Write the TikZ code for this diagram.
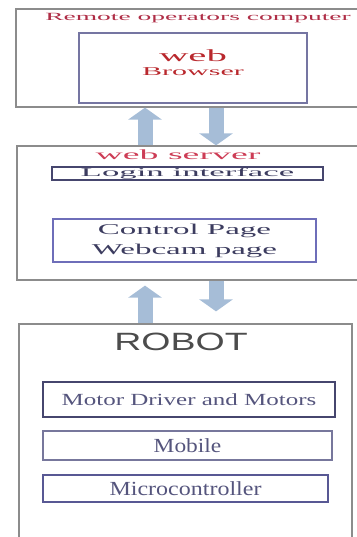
\documentclass[tikz,border=0pt]{standalone}
\usepackage{fontspec}
\setmainfont{Liberation Serif}
\newfontfamily\robotfont{Liberation Sans}
\usetikzlibrary{arrows.meta}

\definecolor{flowblue}{RGB}{166,189,215}
\definecolor{titlered}{RGB}{175,45,70}
\definecolor{textred}{RGB}{185,40,45}
\definecolor{serverred}{RGB}{205,60,85}
\definecolor{navytext}{RGB}{60,60,95}
\definecolor{greytext}{RGB}{85,85,125}
\definecolor{boxnavy}{RGB}{70,70,110}
\definecolor{boxblue}{RGB}{110,110,185}

% stretch a text sideways
\newcommand{\wide}[2]{\scalebox{#1}[1]{#2}}

\begin{document}
\begin{tikzpicture}[x=1pt,y=-1pt,
    outerbox/.style={draw=black!45, line width=1.2pt, inner sep=0pt},
    innerbox/.style={draw=#1, line width=1.2pt, inner sep=0pt, align=center},
    flow/.style={line width=15pt, flowblue, shorten <=0.8pt,
        -{Triangle[width=33pt,length=12pt]}}]
    \useasboundingbox (0,0) rectangle (356,537);

    % Remote operators computer
    \node[outerbox, minimum width=344pt, minimum height=98pt] (remote) at (188,58) {};
    \node[text=titlered, font=\fontsize{11}{13}\selectfont] (remotetitle) at (198,18)
        {\wide{2.5}{Remote operators computer}};
    \node[innerbox=boxblue!60!gray, minimum width=228pt, minimum height=70pt] (browser) at (193,68) {};
    \node[text=textred, font=\fontsize{17}{17}\selectfont] (browserweb) at (193,56) {\wide{2.4}{web}};
    \node[text=textred, font=\fontsize{12}{14}\selectfont] (browsername) at (193,72) {\wide{2.5}{Browser}};

    % web server
    \node[outerbox, minimum width=343pt, minimum height=134pt] (server) at (188.5,213) {};
    \node[text=serverred, font=\fontsize{14}{16}\selectfont] (servertitle) at (178,155)
        {\wide{2.7}{web server}};
    \node[innerbox=boxnavy, minimum width=271pt, minimum height=13pt, text=navytext,
        font=\fontsize{12}{12}\selectfont] (login) at (187.5,173.5) {\wide{2.9}{Login interface}};
    \node[innerbox=boxblue, minimum width=263pt, minimum height=43pt, text=navytext,
        font=\fontsize{15}{20}\selectfont] (control) at (184.5,240.5)
        {\wide{2.2}{Control Page}\\\wide{2.2}{Webcam page}};

    % ROBOT
    \node[outerbox, minimum width=333pt, minimum height=221pt] (robot) at (185.5,434.5) {};
    \node[text=black!70, font=\robotfont\fontsize{25}{25}\selectfont] (robottitle) at (181,342)
        {\wide{1.5}{ROBOT}};
    \node[innerbox=boxnavy, minimum width=292pt, minimum height=35pt, text=greytext,
        font=\fontsize{17}{17}\selectfont] (motor) at (189,399.5) {\wide{1.47}{Motor Driver and Motors}};
    \node[innerbox=boxblue!50!gray, minimum width=289pt, minimum height=29pt, text=greytext,
        font=\fontsize{20}{20}\selectfont] (mobile) at (187.5,445.5) {\wide{1.17}{Mobile}};
    \node[innerbox=boxblue!80!black, minimum width=285pt, minimum height=27pt, text=greytext,
        font=\fontsize{20}{20}\selectfont] (micro) at (185.5,488.5) {\wide{1.2}{Microcontroller}};

    % arrows between the boxes
    \coordinate (upx) at (145,0);
    \coordinate (downx) at (216,0);
    \draw[flow] (server.north -| upx) -- (remote.south -| upx);
    \draw[flow] (remote.south -| downx) -- (server.north -| downx);
    \draw[flow, shorten >=5pt] (robot.north -| upx) -- (server.south -| upx);
    \draw[flow, shorten >=12pt] (server.south -| downx) -- (robot.north -| downx);
\end{tikzpicture}
\end{document}
